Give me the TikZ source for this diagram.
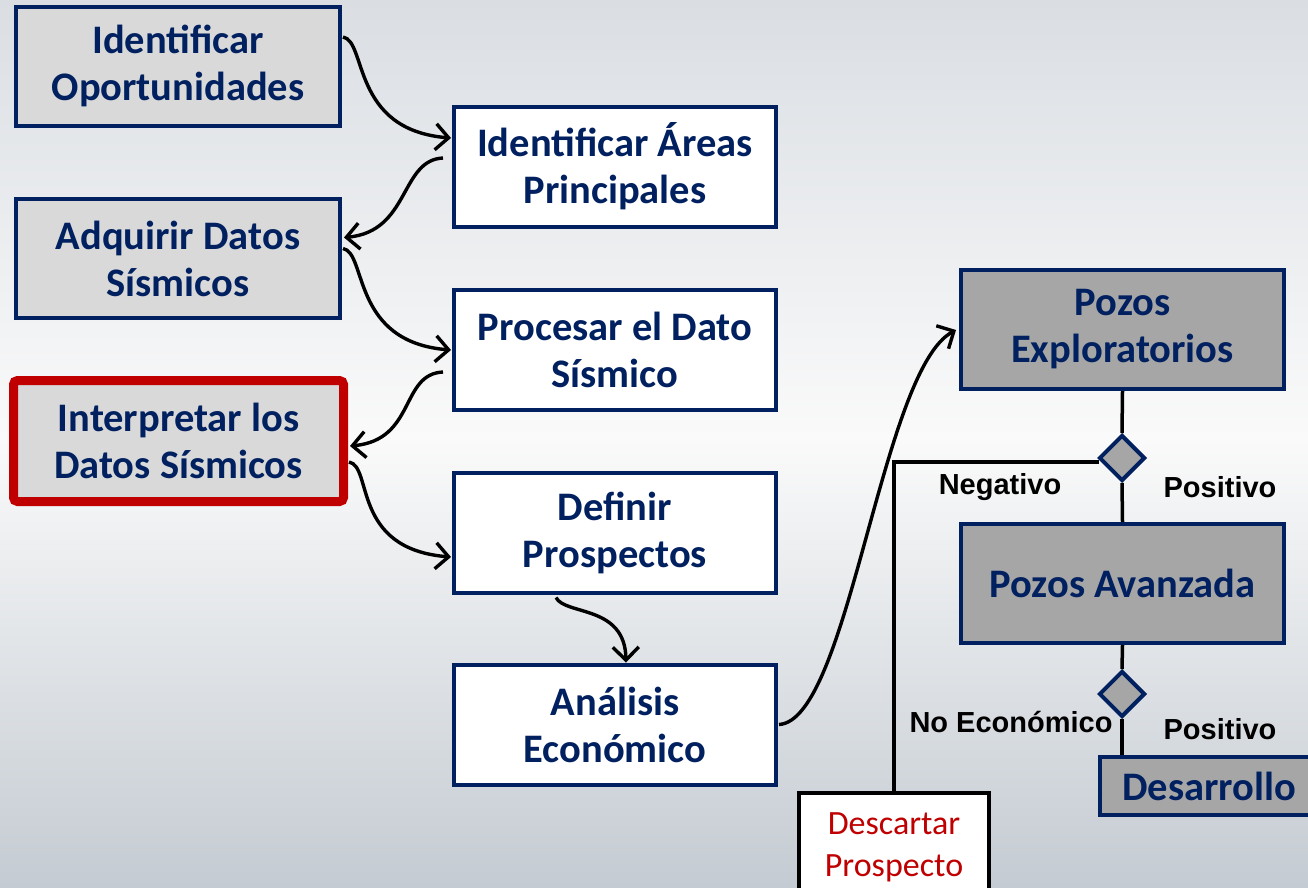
\documentclass[tikz,border=0pt]{standalone}
\usepackage{fontspec}
\newfontfamily\carl{Carlito}
\newfontfamily\arialf{Liberation Sans}
\usetikzlibrary{arrows.meta,shapes.geometric,calc}
\definecolor{navy}{HTML}{002060}
\definecolor{lgray}{HTML}{D9D9D9}
\definecolor{dgray}{HTML}{A6A6A6}
\definecolor{dred}{HTML}{C00000}
\definecolor{bgtop}{HTML}{DADEE3}
\definecolor{bgmid}{HTML}{FAFAFA}
\definecolor{bgbot}{HTML}{C4CBD2}
\tikzset{
  box/.style={draw=navy, line width=4pt, minimum width=324pt, minimum height=119pt,
    inner sep=0pt, align=center, text=navy,
    font=\carl\bfseries\fontsize{40.5}{47}\selectfont},
  lbox/.style={box, fill=lgray},
  wbox/.style={box, fill=white, minimum width=322pt, minimum height=120pt},
  gbox/.style={box, fill=dgray, minimum width=323pt, minimum height=119pt},
  dia/.style={diamond, draw=navy, fill=dgray, line width=4pt, minimum width=46pt,
    minimum height=46pt, inner sep=0pt},
  conn/.style={draw=black, line width=3.4pt, -{Straight Barb[length=13pt,width=26pt]}},
  link/.style={draw=black, line width=3.5pt},
  lab/.style={font=\arialf\bfseries\fontsize{29}{32}\selectfont, text=black, inner sep=0pt}
}
\begin{document}
\begin{tikzpicture}[x=1pt,y=-1pt]
\useasboundingbox (0,0) rectangle (1308,887);
\clip (0,0) rectangle (1308,887);
\shade[top color=bgtop, bottom color=bgmid] (0,0) rectangle (1308,440);
\shade[top color=bgmid, bottom color=bgbot] (0,440) rectangle (1308,887);

\node[lbox] (io) at (178,66) {Identificar\\Oportunidades};
\node[lbox] (ad) at (178,258.5) {Adquirir Datos\\Sísmicos};
\node[lbox, draw=dred, line width=9pt, rounded corners=4pt, minimum width=330pt,
  minimum height=121pt] (ip) at (178.5,441) {Interpretar los\\Datos Sísmicos};

\node[wbox] (ia) at (615,166.5) {Identificar Áreas\\Principales};
\node[wbox] (pd) at (615,349.5) {Procesar el Dato\\Sísmico};
\node[wbox] (dp) at (615,532.5) {Definir\\Prospectos};
\node[wbox] (ae) at (615,724.5) {Análisis\\Económico};

\node[gbox] (pe) at (1122.5,329.5) {Pozos\\Exploratorios};
\node[gbox] (pa) at (1122.5,583.5) {Pozos Avanzada};
\node[gbox, minimum width=218pt, minimum height=58pt] (de) at (1209,786) {Desarrollo};
\node[draw=black, fill=white, line width=4pt, minimum width=190pt, minimum height=108pt,
  inner sep=0pt, align=center, text=dred, font=\carl\fontsize{34}{42}\selectfont]
  (dc) at (894,847) {Descartar\\Prospecto};

\node[dia] (d1) at (1122,458) {};
\node[dia] (d2) at (1122,694) {};

\draw[link] (pe.south) -- (d1.north);
\draw[link] (d1.south) -- (pa.north);
\draw[link] (pa.south) -- (d2.north);
\draw[link] (d2.south) -- (d2.south |- de.north);
\draw[link] ($(d1.west)+(2,4)$) -| (dc.north);
\draw[link] ($(d2.west)+(2,2)$) -- ($(d2.west)+(2,2)$ -| dc.north);

\node[lab] (neg) at (1000,487) {Negativo};
\node[lab] (pos1) at (1220,487) {Positivo};
\node[lab] (noe) at (1011,722) {No Económico};
\node[lab] (pos2) at (1220,729) {Positivo};

\draw[conn] ($(io.east)+(1,-29)$) .. controls +(24,4) and +(-100,-8) .. ($(ia.west)+(-1,-28.5)$);
\draw[conn] ($(ia.west)+(-9,-8.5)$) .. controls +(-43,2) and +(66,-6) .. ($(ad.east)+(2,-21)$);
\draw[conn] ($(ad.east)+(1,-10)$) .. controls +(24,4) and +(-100,-8) .. ($(pd.west)+(-1,0.5)$);
\draw[conn] ($(pd.west)+(-9,22.5)$) .. controls +(-43,2) and +(66,-6) .. ($(ip.east)+(2,5)$);
\draw[conn] ($(ip.east)+(1,21)$) .. controls +(24,4) and +(-100,-8) .. ($(dp.west)+(-1,24.5)$);
\draw[conn] ($(dp.south)+(-59,3)$) .. controls +(9,18) and +(-1,-58) .. ($(ae.north)+(11,0)$);
\draw[conn] ($(ae.east)+(1,0)$) .. controls +(70,-4) and +(-75,40) .. ($(pe.west)+(-3,0.5)$);
\end{tikzpicture}
\end{document}
